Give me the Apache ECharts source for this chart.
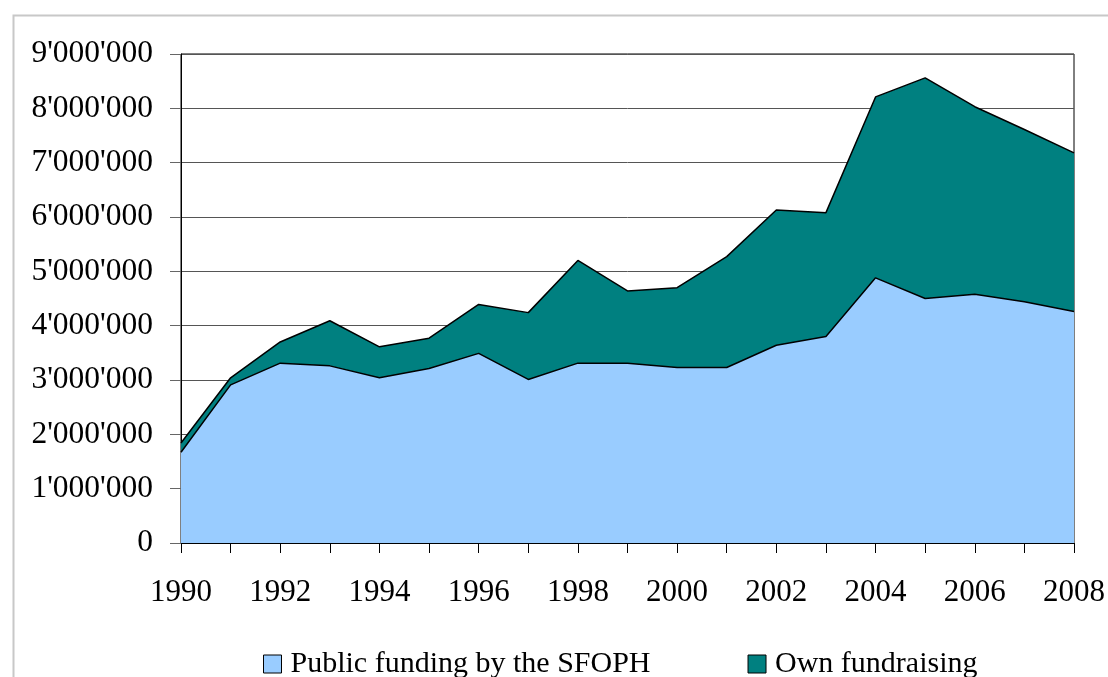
<!DOCTYPE html>
<html>
<head>
<meta charset="utf-8">
<script src="https://cdn.jsdelivr.net/npm/echarts@6/dist/echarts.min.js"></script>
<style>
	html, body { margin: 0; padding: 0; background: #fff; }
	#container_funding { width: 1108px; height: 677px; }
</style>
</head>
<body>
<div id="container_funding"></div>
<script>
// years on the x axis
var years = ['1990','1991','1992','1993','1994','1995','1996','1997','1998','1999',
	'2000','2001','2002','2003','2004','2005','2006','2007','2008'];

// Public funding by the SFOPH (lower band)
var public_funding = [1670000, 2910000, 3310000, 3260000, 3040000, 3210000, 3490000, 3010000, 3310000, 3310000,
	3230000, 3230000, 3640000, 3800000, 4880000, 4500000, 4580000, 4440000, 4260000];

// Own fundraising (stacked on top)
var own_fundraising = [170000, 130000, 390000, 830000, 570000, 560000, 900000, 1230000, 1890000, 1330000,
	1470000, 2040000, 2490000, 2280000, 3330000, 4060000, 3450000, 3170000, 2920000];

var series_names = ['Public funding by the SFOPH', 'Own fundraising'];

// 1000000 -> 1'000'000
function fmt_number(v)
{
	return String(v).replace(/\B(?=(\d{3})+(?!\d))/g, "'");
}

var dom = document.getElementById("container_funding");
var myChart = echarts.init(dom);
var font = 'Liberation Serif';
option = null;
option = {
	backgroundColor: '#ffffff',
	animation: false,
	textStyle: { fontFamily: font },
	graphic: [{
		type: 'rect',
		left: 11,
		top: 13,
		shape: { width: 1120, height: 700 },
		style: { fill: 'none', stroke: '#c8c8c8', lineWidth: 2 },
		silent: true
	}],
	grid: {
		left: 181,
		right: 34,
		top: 54,
		bottom: 134,
		show: true,
		borderColor: '#000',
		borderWidth: 1
	},
	legend: {
		top: 644,
		left: 258,
		itemGap: 97,
		itemWidth: 18,
		itemHeight: 18,
		icon: 'rect',
		itemStyle: { borderColor: '#000', borderWidth: 1 },
		textStyle: { fontFamily: font, fontSize: 30, color: '#000', padding: [0, 0, 0, 4] },
		data: series_names
	},
	xAxis: {
		type: 'category',
		data: years,
		boundaryGap: false,
		axisLine: { lineStyle: { color: '#000', width: 1 } },
		axisTick: { show: true, interval: 0, length: 10, lineStyle: { color: '#000' } },
		axisLabel: { interval: 1, margin: 34, fontFamily: font, fontSize: 31, color: '#000' },
		splitLine: { show: false }
	},
	yAxis: {
		type: 'value',
		min: 0,
		max: 9000000,
		interval: 1000000,
		axisLine: { show: true, lineStyle: { color: '#000', width: 1 } },
		axisTick: { show: true, length: 11, lineStyle: { color: '#666' } },
		axisLabel: {
			margin: 28,
			fontFamily: font,
			fontSize: 31.5,
			color: '#000',
			formatter: function (v) { return fmt_number(v); }
		},
		splitLine: { show: true, lineStyle: { color: '#555', width: 1 } }
	},
	series: [
		{
			name: series_names[0],
			type: 'line',
			stack: 'total',
			data: public_funding,
			symbol: 'none',
			lineStyle: { color: '#000', width: 1.5 },
			itemStyle: { color: '#99ccff' },
			areaStyle: { color: '#99ccff', opacity: 1 }
		},
		{
			name: series_names[1],
			type: 'line',
			stack: 'total',
			data: own_fundraising,
			symbol: 'none',
			lineStyle: { color: '#000', width: 1.5 },
			itemStyle: { color: '#008080' },
			areaStyle: { color: '#008080', opacity: 1 }
		}
	]
};
if (option && typeof option === "object") {
	myChart.setOption(option, true);
}
</script>
</body>
</html>
